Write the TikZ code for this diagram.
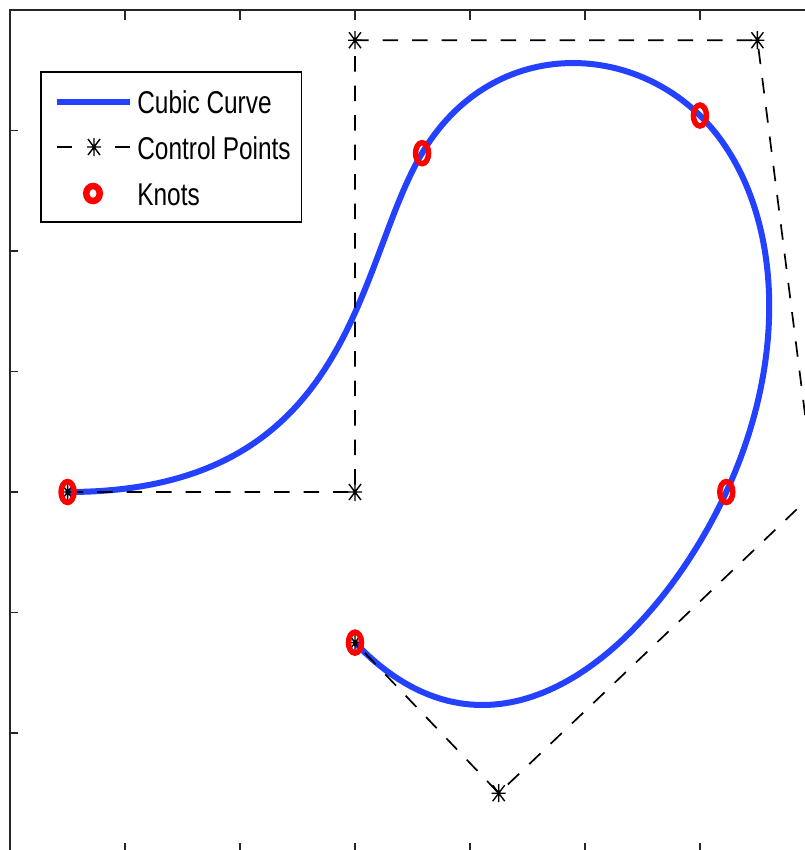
\documentclass[tikz,border=0pt]{standalone}
\usepackage{fontspec}
\setmainfont{Liberation Sans}
\definecolor{curveblue}{RGB}{35,65,255}
\definecolor{axgray}{gray}{0.15}
\tikzset{
  curveline/.style={curveblue, line width=0.12cm},
  ctrlline/.style={black, line width=0.034cm, dash pattern=on 0.31cm off 0.28cm},
  astk/.style={black, line width=0.028cm},
  knotmark/.style={red, line width=0.11cm},
  axisline/.style={axgray, line width=0.025cm},
  legtext/.style={anchor=base west, inner sep=0pt, font=\fontsize{13.9pt}{16pt}\selectfont}
}
\newcommand{\astat}[1]{\draw[astk] (#1) +(-7,0) -- +(7,0) (#1) +(0,-9) -- +(0,9)
  (#1) +(-6,-8) -- +(6,8) (#1) +(-6,8) -- +(6,-8);}
\begin{document}
\begin{tikzpicture}[x=0.02cm, y=-0.02cm]
\useasboundingbox (0,0) rectangle (805,850);
\clip (0,0) rectangle (805,850);
\begin{scope}[shift={(355,492)}, x=2.3cm, y=2.41cm]
  % control points
  \coordinate (P0) at (-2.5,0);
  \coordinate (P1) at (0,0);
  \coordinate (P2) at (0,3.75);
  \coordinate (P3) at (3.5,3.75);
  \coordinate (P4) at (4,0);
  \coordinate (P5) at (1.25,-2.5);
  \coordinate (P6) at (0,-1.25);
  % knots
  \coordinate (K0) at (-2.5,0);
  \coordinate (K1) at (0.58333,2.8125);
  \coordinate (K2) at (3,3.125);
  \coordinate (K3) at (3.22917,0);
  \coordinate (K4) at (0,-1.25);
  % axes box and ticks
  \draw[axisline] (-3,-3) rectangle (4,4);
  \foreach \t in {-2,...,3} {
    \draw[axisline] (\t,4) -- ++(0,-0.19cm);
    \draw[axisline] (\t,-3) -- ++(0,0.2cm);
    \draw[axisline] (-3,\t) -- ++(0.15cm,0);
    \draw[axisline] (4,\t) -- ++(-0.15cm,0);
  }
  % cubic curve
  \draw[curveline] (K0) .. controls (0,0) and (0,1.875) .. (K1)
     .. controls (1.16667,3.75) and (2.33333,3.75) .. (K2)
     .. controls (3.66667,2.5) and (3.83333,1.25) .. (K3)
     .. controls (2.625,-1.25) and (1.25,-2.5) .. (K4);
  % control polygon
  \draw[ctrlline] (P0) -- (P1) -- (P2) -- (P3) -- (P4) -- (P5) -- (P6);
\end{scope}
% asterisks
\foreach \p in {P0,P1,P2,P3,P4,P5,P6} { \astat{\p} }
% knots
\foreach \k in {K0,K1,K2,K3,K4} {
  \draw[knotmark] (\k) ellipse [x radius=0.13cm, y radius=0.21cm];
}
% legend
\draw[black, line width=0.025cm, fill=white] (41,72) rectangle (301.5,222);
\coordinate (L1a) at (57,102); \coordinate (L1b) at (130,102);
\draw[curveblue, line width=0.13cm] (L1a) -- (L1b);
\coordinate (L2a) at (57,147); \coordinate (L2b) at (72,147);
\coordinate (L2c) at (115,147); \coordinate (L2d) at (130,147);
\coordinate (L2m) at (94,147);
\draw[black, line width=0.03cm] (L2a) -- (L2b) (L2c) -- (L2d);
\astat{L2m}
\coordinate (L3m) at (93,193.5);
\draw[red, line width=0.13cm] (L3m) ellipse [x radius=0.135cm, y radius=0.15cm];
\node[legtext] (t1) at (137,113.3) {\scalebox{1}[1.29]{Cubic Curve}};
\node[legtext] (t2) at (137,159.3) {\scalebox{1}[1.29]{Control Points}};
\node[legtext] (t3) at (137,205) {\scalebox{1}[1.29]{Knots}};
\end{tikzpicture}
\end{document}
